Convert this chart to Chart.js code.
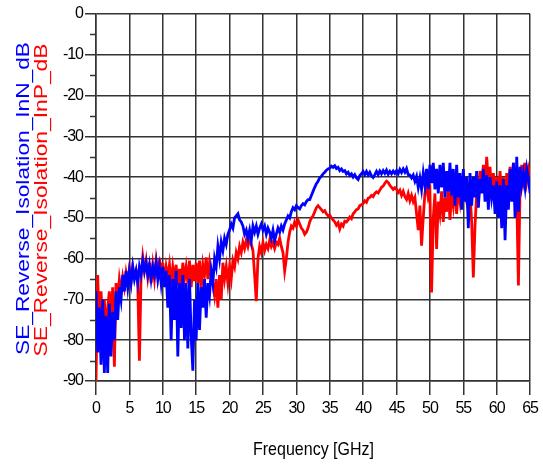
<!DOCTYPE html>
<html>
<head>
<meta charset="utf-8">
<script src="https://cdn.jsdelivr.net/npm/chart.js"></script>
<style>
  body { margin: 0; background: #fff; }
  canvas { display: block; }
</style>
</head>
<body>
<canvas id="grafico" width="543" height="465"></canvas>
<script>
const stepGHz = 0.25;

// SE_Reverse_Isolation_InN_dB (blue), 0 .. 65 GHz
const inN = [
  -68, -83, -72, -86, -70, -88, -74, -88, -71, -84, -73, -80, -68, -75, -67, -70, -64, -68, -63, -67,
  -63, -66, -62, -65, -63, -66, -62, -64, -60.5, -63, -61, -64, -61.5, -65, -62, -64, -61, -65, -62, -66,
  -62, -67, -63, -72, -64, -80, -65, -75, -63, -84, -66, -77, -64, -80, -66, -82, -65, -79, -87.5, -70,
  -80, -66, -77.5, -67, -72, -65, -74.5, -66, -69, -63, -66, -60, -62, -57, -60, -56, -58, -55, -56.5, -54,
  -53, -51.5, -52.5, -50, -49.5, -49, -50.5, -51, -52, -54, -53, -55, -53, -55.5, -52, -53.5, -52, -54, -52.5, -51.5,
  -53, -52, -54, -52.5, -53.5, -55, -53, -55.5, -54, -52.5, -53.5, -52, -53, -51.5, -50.5, -49.5, -50, -48.5, -47.5, -48,
  -47, -47.5, -47.8, -47, -46.5, -46.8, -46, -45.5, -45.5, -44.5, -43.5, -42.5, -41.6, -41, -40.2, -39.8, -39.2, -38.8, -38.3, -38,
  -37.8, -37.3, -37.6, -37.2, -37.9, -37.6, -38.4, -38, -38.6, -38.4, -39.2, -38.8, -39.6, -39.2, -40, -39.4, -40.2, -40.6, -39.6, -39.2,
  -38.6, -39.4, -38.6, -39.5, -38.8, -39.7, -40.1, -39.4, -38.6, -39.4, -38.5, -39.2, -38.4, -39.1, -38.3, -39.3, -38.6, -39.2, -38.5, -39.1,
  -38.4, -39.2, -38.1, -38.9, -38, -38.8, -37.9, -39.4, -39.5, -40.2, -39.5, -41, -39.8, -42.5, -40.2, -43, -39, -42, -38, -43,
  -37, -41.5, -36.5, -43, -38, -44, -37, -42.5, -36.5, -45, -38.5, -43.5, -36.5, -44.5, -38, -47, -37, -45, -39, -48,
  -38, -46, -40, -52.5, -39, -47, -40, -45, -38.5, -47.5, -40.5, -44, -38, -46, -39.5, -48, -40, -45, -42, -49,
  -41, -50, -42, -52.5, -40.5, -55.5, -42, -48, -38, -46, -36.5, -50, -35, -48.5, -37.5, -42, -39, -42.5, -38, -40.5, -44
];

// SE_Reverse_Isolation_InP_dB (red), 0 .. 65 GHz
const inP = [
  -90, -64, -78, -68, -76, -70, -79, -72, -68, -75, -67, -86.5, -66, -70, -65, -68, -64.5, -67, -63.5, -66,
  -62.5, -65.5, -62, -64.5, -63, -66, -85, -64, -59.6, -63, -60.5, -64.5, -61, -66, -61.5, -65, -60.5, -64, -59.8, -65,
  -61, -66, -62, -64.5, -61.5, -66.5, -62, -65, -61.5, -66.5, -62.5, -67, -61, -65, -62, -66, -60.5, -67, -61.5, -65.5,
  -61, -66, -60.5, -67.5, -61.5, -64, -59.7, -65, -61, -64, -66, -69, -65, -72, -64, -70, -61, -65, -62, -66,
  -62, -65, -60.5, -62, -58.5, -60, -57, -58.5, -56, -57.5, -55.5, -57, -55, -56.5, -58, -64, -70.4, -60, -57, -58.5,
  -56, -58, -56.5, -57.5, -55.5, -57, -56, -57.5, -56, -56.5, -55, -57, -58.5, -63, -60, -56, -53.5, -52, -52.5, -51,
  -52, -50.5, -51.5, -52.5, -53, -54, -53.5, -52.5, -51, -50, -49.5, -48.5, -47.5, -47, -47.5, -48, -48.5, -48.2, -49, -49.5,
  -49.3, -50, -50.5, -51, -51.8, -51.2, -52.7, -51.5, -52, -50.8, -51, -50.5, -49.8, -50.2, -49, -48.5, -48, -47.8, -47, -46.8,
  -46.5, -45.8, -46.2, -45.2, -45, -44.5, -44.8, -44, -43.6, -43.9, -43.2, -42.5, -42.2, -41.5, -41, -41.3, -42, -42.5, -43, -42.6,
  -43, -43.8, -43.2, -44.5, -43.5, -44.8, -45.5, -44, -45.8, -44.5, -46, -45, -49, -53, -47, -56.8, -50, -44, -42, -45,
  -43.5, -68.3, -50, -44, -57.6, -46, -49, -43.5, -51, -45, -48.5, -42.5, -50.5, -44, -47, -42, -49, -43, -46, -41,
  -45, -40.5, -46, -48, -44, -51, -64.6, -52, -44, -47, -38.5, -43, -37, -44, -35, -41, -37.5, -44, -39, -45,
  -40, -46, -38.5, -44.5, -40, -47, -39, -43, -37.5, -44, -36.5, -41, -45, -66.6, -42, -37, -40.5, -36.5, -41, -38, -40
];

const seriesNames = ['SE_Reverse_Isolation_InN_dB', 'SE_Reverse_Isolation_InP_dB'];
const seriesColors = ['#0000ff', '#ff0000'];
const xTitle = 'Frequency [GHz]';
const yMinorTicks = [-5, -15, -25, -35, -45, -55, -65, -75, -85];

const toPoints = arr => arr.map((v, i) => ({ x: i * stepGHz, y: v }));

const gridColor = '#333';

function stretchText(ctx, txt, x, y, width, font, color, rotated) {
  ctx.save();
  ctx.letterSpacing = '0px';
  ctx.font = font;
  ctx.fillStyle = color;
  ctx.textBaseline = 'alphabetic';
  ctx.translate(x, y);
  if (rotated) ctx.rotate(-Math.PI / 2);
  const w = ctx.measureText(txt).width;
  ctx.scale(width / w, 1);
  ctx.textAlign = rotated ? 'left' : 'center';
  ctx.fillText(txt, 0, 0);
  ctx.restore();
}

const extras = {
  id: 'extras',
  beforeDraw(chart) {
    // the tick labels in the original are set tight
    chart.ctx.letterSpacing = '-1px';
  },
  afterDraw(chart) {
    const ctx = chart.ctx;
    const ys = chart.scales.y;
    const left = chart.chartArea.left;
    ctx.save();
    ctx.strokeStyle = gridColor;
    ctx.lineWidth = 1.5;
    yMinorTicks.forEach(v => {
      const py = Math.round(ys.getPixelForValue(v)) + 0.5;
      ctx.beginPath();
      ctx.moveTo(left - 6, py);
      ctx.lineTo(left, py);
      ctx.stroke();
    });
    ctx.restore();

    // rotated series names on the left
    stretchText(ctx, seriesNames[0], 28.5, 355, 313, '18px "Liberation Sans"', seriesColors[0], true);
    stretchText(ctx, seriesNames[1], 46.5, 356.5, 313, '18px "Liberation Sans"', seriesColors[1], true);
    // x axis title
    stretchText(ctx, xTitle, 313.5, 455, 121, '19px "Liberation Sans"', '#000', false);
    ctx.letterSpacing = '0px';
  }
};

Chart.defaults.font.family = '"Liberation Sans", Arial, sans-serif';
Chart.defaults.color = '#000';

const ctx = document.getElementById('grafico');

new Chart(ctx, {
  type: 'line',
  data: {
    datasets: [
      { label: seriesNames[0], data: toPoints(inN), borderColor: seriesColors[0], borderWidth: 2.8 },
      { label: seriesNames[1], data: toPoints(inP), borderColor: seriesColors[1], borderWidth: 2.8 }
    ]
  },
  options: {
    responsive: false,
    animation: false,
    layout: { padding: { top: 14, right: 12, left: 0, bottom: 0 } },
    elements: {
      point: { radius: 0 },
      line: { tension: 0, fill: false }
    },
    plugins: {
      legend: { display: false },
      tooltip: { enabled: false }
    },
    scales: {
      x: {
        type: 'linear',
        min: 0,
        max: 65,
        ticks: { stepSize: 5, font: { size: 16 }, padding: 4, maxRotation: 0 },
        grid: { color: gridColor, lineWidth: 1.5, tickLength: 14 },
        border: { color: gridColor, width: 1.5 },
        afterFit: s => { s.height = 84; }
      },
      y: {
        min: -90,
        max: 0,
        ticks: { stepSize: 10, font: { size: 16 }, padding: 2 },
        grid: { color: gridColor, lineWidth: 1.5, tickLength: 11 },
        border: { color: gridColor, width: 1.5 },
        afterFit: s => { s.width = 96; }
      }
    }
  },
  plugins: [extras]
});
</script>
</body>
</html>
